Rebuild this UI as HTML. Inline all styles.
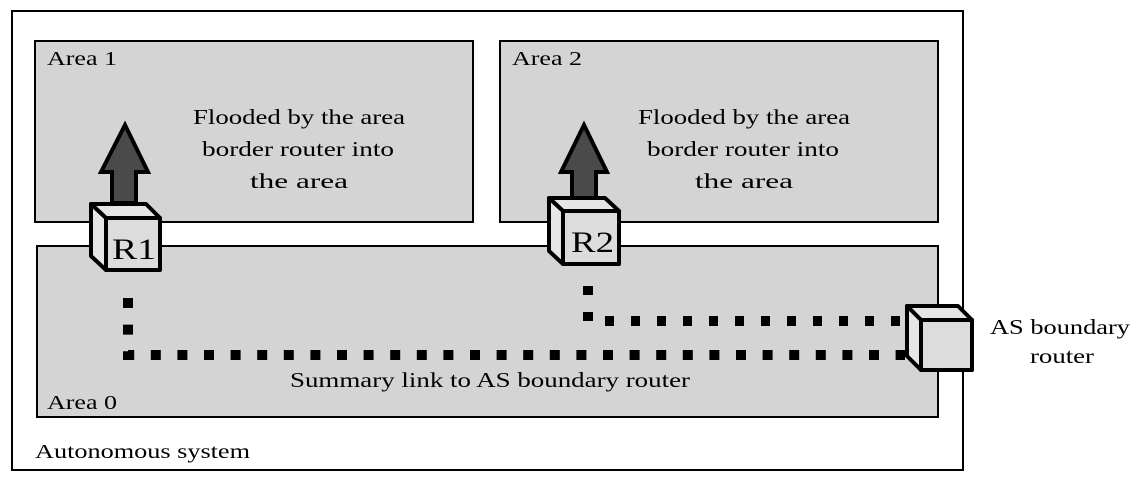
<!DOCTYPE html>
<html><head><meta charset="utf-8"><style>
body{margin:0;background:#fff}
svg text{font-family:"Liberation Serif",serif;fill:#000}
</style></head><body>
<svg width="1141" height="486" viewBox="0 0 1141 486" xmlns="http://www.w3.org/2000/svg">
<rect x="12" y="11" width="951" height="459" fill="#fff" stroke="#000" stroke-width="2"/>
<rect x="35" y="41" width="438" height="181" fill="#d4d4d4" stroke="#000" stroke-width="2"/>
<rect x="500" y="41" width="438" height="181" fill="#d4d4d4" stroke="#000" stroke-width="2"/>
<rect x="37" y="246" width="901" height="171" fill="#d4d4d4" stroke="#000" stroke-width="2"/>
<g lengthAdjust="spacingAndGlyphs">
<text x="47" y="65" font-size="20" textLength="70" lengthAdjust="spacingAndGlyphs">Area 1</text>
<text x="512" y="65" font-size="20" textLength="70" lengthAdjust="spacingAndGlyphs">Area 2</text>
<text x="47" y="409" font-size="20" textLength="70" lengthAdjust="spacingAndGlyphs">Area 0</text>
<text x="35" y="458" font-size="20" textLength="215" lengthAdjust="spacingAndGlyphs">Autonomous system</text>
<text x="193" y="124" font-size="21" textLength="212" lengthAdjust="spacingAndGlyphs">Flooded by the area</text>
<text x="202" y="156" font-size="21" textLength="192" lengthAdjust="spacingAndGlyphs">border router into</text>
<text x="250" y="188" font-size="21" textLength="98" lengthAdjust="spacingAndGlyphs">the area</text>
<text x="638" y="124" font-size="21" textLength="212" lengthAdjust="spacingAndGlyphs">Flooded by the area</text>
<text x="647" y="156" font-size="21" textLength="192" lengthAdjust="spacingAndGlyphs">border router into</text>
<text x="695" y="188" font-size="21" textLength="98" lengthAdjust="spacingAndGlyphs">the area</text>
<text x="290" y="387" font-size="21" textLength="400" lengthAdjust="spacingAndGlyphs">Summary link to AS boundary router</text>
<text x="990" y="334" font-size="21" textLength="140" lengthAdjust="spacingAndGlyphs">AS boundary</text>
<text x="1030" y="363" font-size="21" textLength="64" lengthAdjust="spacingAndGlyphs">router</text>
</g>
<g stroke="#000" stroke-width="10" fill="none">
<path d="M128 298 V355 H905" stroke-dasharray="10 16.6"/>
<path d="M588 286 V321 H905" stroke-dasharray="9 17"/>
</g>
<polygon points="125,125 148,172 136,172 136,203 112,203 112,172 101,172" fill="#4a4a4a" stroke="#000" stroke-width="4"/>
<polygon points="584,125 607,172 596,172 596,200 572,200 572,172 561,172" fill="#4a4a4a" stroke="#000" stroke-width="4"/>
<g stroke="#000" stroke-width="4" stroke-linejoin="round">
<polygon points="91,204 146,204 160,218 106,218" fill="#e6e6e6"/>
<polygon points="91,204 106,218 106,270 91,256" fill="#e6e6e6"/>
<rect x="106" y="218" width="54" height="52" fill="#dcdcdc"/>
<polygon points="549,198 605,198 619,211 563,211" fill="#e6e6e6"/>
<polygon points="549,198 563,211 563,264 549,251" fill="#e6e6e6"/>
<rect x="563" y="211" width="56" height="53" fill="#dcdcdc"/>
<polygon points="907,306 958,306 972,320 921,320" fill="#e6e6e6"/>
<polygon points="907,306 921,320 921,370 907,356" fill="#e6e6e6"/>
<rect x="921" y="320" width="51" height="50" fill="#dcdcdc"/>
</g>
<text x="112" y="259" font-size="30" textLength="44" lengthAdjust="spacingAndGlyphs">R1</text>
<text x="571" y="252" font-size="30" textLength="43" lengthAdjust="spacingAndGlyphs">R2</text>
</svg>
</body></html>
